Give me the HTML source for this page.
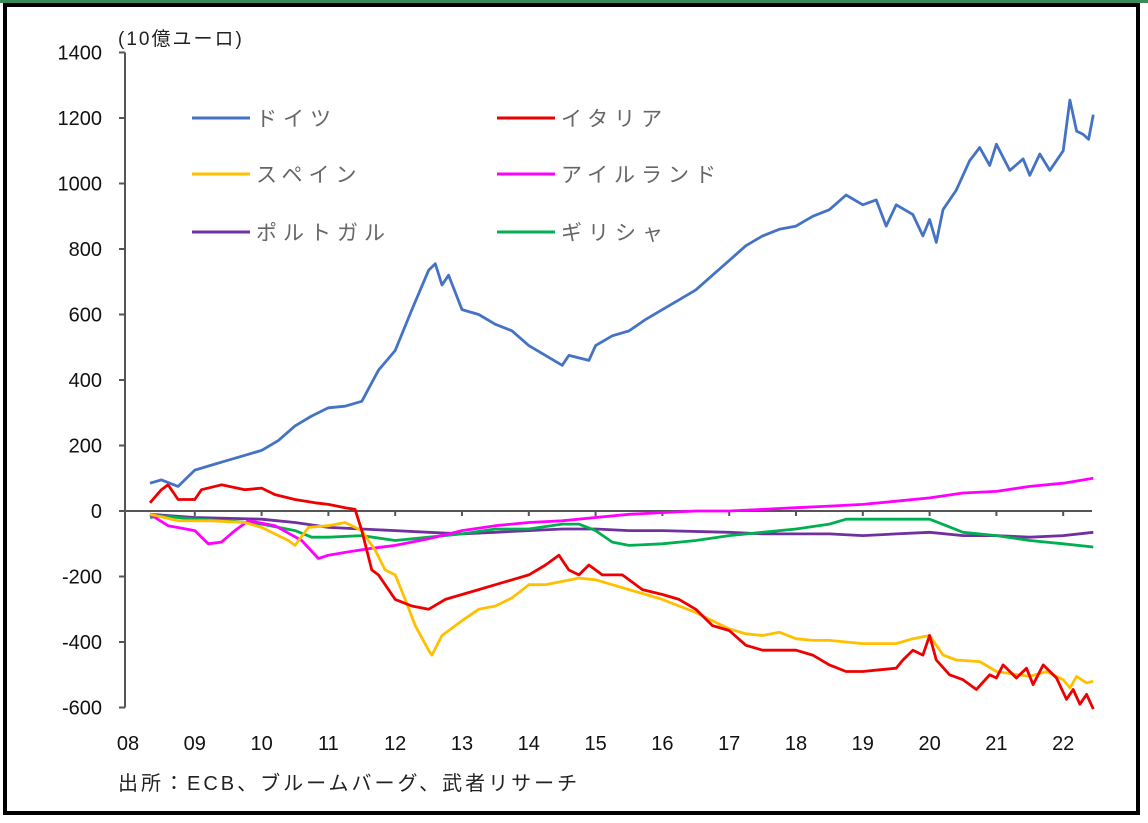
<!DOCTYPE html>
<html><head><meta charset="utf-8">
<style>
html,body{margin:0;padding:0;background:#fff;}
body{width:1148px;height:818px;overflow:hidden;position:relative;font-family:"Liberation Sans","Noto Sans CJK JP",sans-serif;}
svg text{font-family:"Liberation Sans","Noto Sans CJK JP",sans-serif;}
</style></head>
<body>
<svg id="chart" width="1148" height="818" viewBox="0 0 1148 818">
<rect x="0" y="0" width="1148" height="3" fill="#3a8a5a"/>
<rect x="5" y="5" width="1133" height="808" fill="#fff" stroke="#000" stroke-width="4"/>
<text x="118" y="45" font-size="19" fill="#222" letter-spacing="2">(10億ユーロ)</text>
<g id="yaxis"></g>
<g id="xaxis"></g>
<g id="series"></g>
<g id="legend"></g>
<text x="118" y="790" font-size="20" fill="#222" letter-spacing="3">出所：ECB、ブルームバーグ、武者リサーチ</text>
</svg>
<script>
const yTicks=[1400,1200,1000,800,600,400,200,0,-200,-400,-600];
const xTickLabels=["08","09","10","11","12","13","14","15","16","17","18","19","20","21","22"];
const seriesNames=["ドイツ","イタリア","スペイン","アイルランド","ポルトガル","ギリシャ"];
const seriesColors=["#4472C4","#EE0000","#FFC000","#FF00FF","#7030A0","#00B050"];
const germanyT=[2008.33,2008.5,2008.75,2009,2009.25,2009.5,2009.75,2010,2010.25,2010.5,2010.75,2011,2011.25,2011.5,2011.75,2012,2012.25,2012.5,2012.6,2012.7,2012.8,2013,2013.25,2013.5,2013.75,2014,2014.25,2014.5,2014.6,2014.9,2015,2015.25,2015.5,2015.75,2016,2016.25,2016.5,2016.75,2017,2017.25,2017.5,2017.75,2018,2018.25,2018.5,2018.75,2019,2019.2,2019.35,2019.5,2019.75,2019.9,2020,2020.1,2020.2,2020.4,2020.6,2020.75,2020.9,2021,2021.2,2021.4,2021.5,2021.65,2021.8,2022,2022.1,2022.2,2022.3,2022.38,2022.45];
const germanyV=[85,95,75,125,140,155,170,185,215,260,290,315,320,335,430,490,615,735,755,690,720,615,600,570,550,505,475,445,475,460,505,535,550,585,615,645,675,720,765,810,840,860,870,900,920,965,935,950,870,935,905,840,890,820,920,980,1070,1110,1055,1120,1040,1075,1025,1090,1040,1100,1255,1160,1150,1135,1210];
const italyT=[2008.33,2008.5,2008.6,2008.75,2009,2009.1,2009.4,2009.75,2010,2010.2,2010.5,2010.8,2011,2011.25,2011.4,2011.5,2011.65,2011.75,2012,2012.25,2012.5,2012.75,2013,2013.25,2013.5,2013.75,2014,2014.25,2014.45,2014.6,2014.75,2014.9,2015.1,2015.4,2015.7,2016,2016.25,2016.5,2016.75,2017,2017.25,2017.5,2017.75,2018,2018.25,2018.5,2018.75,2019,2019.25,2019.5,2019.6,2019.75,2019.9,2020,2020.1,2020.3,2020.5,2020.7,2020.9,2021,2021.1,2021.3,2021.45,2021.55,2021.7,2021.9,2022.05,2022.15,2022.25,2022.35,2022.45];
const italyV=[25,65,80,35,35,65,80,65,70,50,35,25,20,10,5,-60,-180,-195,-270,-290,-300,-270,-255,-240,-225,-210,-195,-165,-135,-180,-195,-165,-195,-195,-240,-255,-270,-300,-350,-365,-410,-425,-425,-425,-440,-470,-490,-490,-485,-480,-455,-425,-440,-380,-455,-500,-515,-545,-500,-510,-470,-510,-480,-530,-470,-510,-575,-545,-590,-560,-605];
const spainT=[2008.33,2008.75,2009.25,2009.75,2010,2010.4,2010.5,2010.7,2011,2011.25,2011.5,2011.7,2011.85,2012,2012.15,2012.3,2012.5,2012.55,2012.7,2013,2013.25,2013.5,2013.75,2014,2014.25,2014.5,2014.75,2015,2015.25,2015.5,2015.75,2016,2016.25,2016.5,2016.75,2017,2017.25,2017.5,2017.75,2018,2018.25,2018.5,2018.75,2019,2019.5,2019.75,2020,2020.2,2020.4,2020.75,2021,2021.5,2021.75,2022,2022.1,2022.2,2022.35,2022.45];
const spainV=[-10,-30,-30,-35,-50,-90,-105,-50,-45,-35,-60,-120,-180,-195,-270,-350,-425,-440,-380,-335,-300,-290,-265,-225,-225,-215,-205,-210,-225,-240,-255,-270,-290,-310,-335,-360,-375,-380,-370,-390,-395,-395,-400,-405,-405,-390,-380,-440,-455,-460,-490,-505,-490,-515,-540,-505,-525,-520];
const irelandT=[2008.33,2008.6,2009,2009.2,2009.4,2009.6,2009.8,2010.2,2010.6,2010.85,2011,2011.3,2011.6,2012,2012.5,2013,2013.5,2014,2014.5,2015,2015.5,2016,2016.5,2017,2017.5,2018,2018.5,2019,2019.5,2020,2020.5,2021,2021.5,2022,2022.45];
const irelandV=[-10,-45,-60,-100,-95,-60,-30,-45,-90,-145,-135,-125,-115,-105,-85,-60,-45,-35,-30,-20,-10,-5,0,0,5,10,15,20,30,40,55,60,75,85,100];
const portugalT=[2008.33,2009,2010,2010.5,2011,2011.5,2012,2012.5,2013,2013.5,2014,2014.5,2015,2015.5,2016,2017,2017.5,2018,2018.5,2019,2019.5,2020,2020.5,2021,2021.5,2022,2022.45];
const portugalV=[-10,-20,-25,-35,-50,-55,-60,-65,-70,-65,-60,-55,-55,-60,-60,-65,-70,-70,-70,-75,-70,-65,-75,-75,-80,-75,-65];
const greeceT=[2008.33,2008.5,2009,2009.5,2010,2010.5,2010.75,2011,2011.5,2012,2012.5,2013,2013.5,2014,2014.5,2014.75,2015,2015.25,2015.5,2016,2016.5,2017,2017.5,2018,2018.5,2018.75,2019,2019.5,2020,2020.25,2020.5,2021,2021.5,2022,2022.45];
const greeceV=[-20,-15,-25,-30,-40,-60,-80,-80,-75,-90,-80,-70,-55,-55,-40,-40,-60,-95,-105,-100,-90,-75,-65,-55,-40,-25,-25,-25,-25,-45,-65,-75,-90,-100,-110];

const NS="http://www.w3.org/2000/svg";
const X0=128, XPY=66.8, Y0=511, YPU=65.5/200;
const xs=t=>X0+(t-2008)*XPY;
const ys=v=>Y0-v*YPU;
function mk(tag,attrs,parent){const e=document.createElementNS(NS,tag);for(const k in attrs)e.setAttribute(k,attrs[k]);parent.appendChild(e);return e;}

const yaxis=document.getElementById('yaxis');
const yl=mk('line',{x1:125,x2:125,y1:ys(1400),y2:ys(-600),stroke:'#555','stroke-width':2},yaxis);


yTicks.forEach(v=>{
  const tk=mk('line',{x1:119,x2:125,y1:ys(v),y2:ys(v),stroke:'#555','stroke-width':2},yaxis);
  
  
  const tx=mk('text',{x:102,y:ys(v)+7,'text-anchor':'end','font-size':20,fill:'#111'},yaxis);
  tx.textContent=v;
  
  
});
const xaxis=document.getElementById('xaxis');
const zl=mk('line',{x1:125,x2:1092,y1:ys(0),y2:ys(0),stroke:'#555','stroke-width':2},xaxis);


xTickLabels.forEach((lab,i)=>{
  const x=xs(2008+i);
  if(i>0){const tk=mk('line',{x1:x,x2:x,y1:ys(0),y2:ys(0)+5,stroke:'#555','stroke-width':2},xaxis);
  
  }
  const tx=mk('text',{x:x,y:750,'text-anchor':'middle','font-size':20,fill:'#111'},xaxis);
  tx.textContent=lab;
  
  
});
const sg=document.getElementById('series');
const all=[[germanyT,germanyV],[italyT,italyV],[spainT,spainV],[irelandT,irelandV],[portugalT,portugalV],[greeceT,greeceV]];
const keys=['germany','italy','spain','ireland','portugal','greece'];
const order=[4,5,3,2,1,0];
order.forEach(i=>{
  const [T,V]=all[i];
  const d=T.map((t,j)=>(j?'L':'M')+xs(t).toFixed(1)+' '+ys(V[j]).toFixed(1)).join(' ');
  const p=mk('path',{d:d,fill:'none',stroke:seriesColors[i],'stroke-width':2.8,'stroke-linejoin':'round'},sg);
  
  
});
const lg=document.getElementById('legend');
const lpos=[[192,118],[497,118],[192,174],[497,174],[192,232],[497,232]];
seriesNames.forEach((n,i)=>{
  const [x,y]=lpos[i];
  const l=mk('line',{x1:x,x2:x+58,y1:y,y2:y,stroke:seriesColors[i],'stroke-width':3},lg);
  
  
  const t=mk('text',{x:x+64,y:y+8,'font-size':21,fill:'#666','letter-spacing':'6'},lg);
  t.textContent=n;
  
  
});
</script>
</body></html>
